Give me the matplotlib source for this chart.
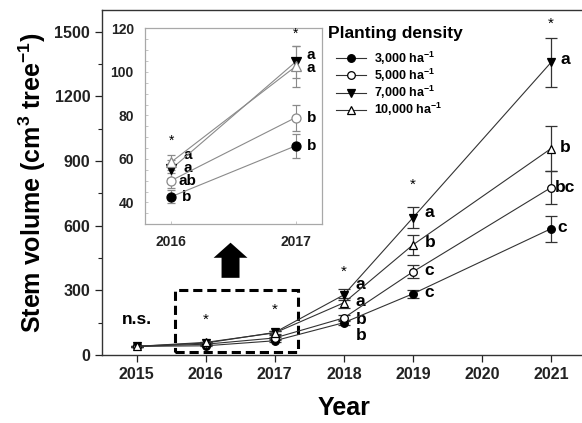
import matplotlib; matplotlib.use('Agg')
import matplotlib.pyplot as plt
from matplotlib.patches import Rectangle, FancyArrow
from matplotlib.lines import Line2D
from matplotlib.ticker import MultipleLocator

plt.rcParams['font.family'] = ['Liberation Sans', 'DejaVu Sans']
plt.rcParams['font.weight'] = 'bold'
plt.rcParams['mathtext.fontset'] = 'custom'
plt.rcParams['mathtext.rm'] = 'Liberation Sans:bold'
plt.rcParams['mathtext.bf'] = 'Liberation Sans:bold'
plt.rcParams['mathtext.default'] = 'bf'

# data
years = [2015, 2016, 2017, 2018, 2019, 2021]
densities = ['3,000', '5,000', '7,000', '10,000']
markers = ['o', 'o', 'v', '^']
filled = [True, False, True, False]
vol = {
    '3,000':  [40, 42.6, 66, 150, 284, 586],
    '5,000':  [40, 50, 79, 172, 386, 777],
    '7,000':  [40, 55.3, 104.6, 279, 637, 1358],
    '10,000': [40, 58.5, 102.5, 242, 511, 958],
}
err = {
    '3,000':  [3, 3, 5.5, 12, 18, 60],
    '5,000':  [3, 3.5, 6, 15, 30, 78],
    '7,000':  [3, 4, 7.5, 25, 50, 114],
    '10,000': [3, 3.5, 9.5, 22, 45, 105],
}
inset_years = [2016, 2017]

# significance letters: (x, y, text)
main_letters = [
    (2018.17, 325, 'a'), (2018.17, 248, 'a'), (2018.17, 163, 'b'), (2018.17, 90, 'b'),
    (2019.17, 660, 'a'), (2019.17, 521, 'b'), (2019.17, 391, 'c'), (2019.17, 290, 'c'),
    (2021.13, 1372, 'a'), (2021.13, 964, 'b'), (2021.05, 778, 'bc'), (2021.09, 592, 'c'),
]
main_stars = [(2016, 163), (2017, 212), (2018, 387), (2019, 790), (2021, 1535)]
inset_letters = [
    (2016.10, 61.6, 'a'), (2016.10, 55.8, 'a'), (2016.06, 50, 'ab'), (2016.09, 42.4, 'b'),
    (2017.09, 107.8, 'a'), (2017.09, 101.7, 'a'), (2017.09, 78.9, 'b'), (2017.09, 66, 'b'),
]
inset_stars = [(2016, 68.5), (2017, 117.7)]

fig = plt.figure(figsize=(5.82, 4.23), dpi=100)
ax = fig.add_axes([0.1753, 0.1608, 0.831, 0.8152])

handles = []
for d, m, f in zip(densities, markers, filled):
    fc = 'black' if f else 'white'
    ax.errorbar(years, vol[d], yerr=err[d], color='#333333', lw=0.8,
                marker=m, ms=5.5, mfc=fc, mec='black', mew=0.9,
                ecolor='#333333', elinewidth=0.9, capsize=4, capthick=0.9, zorder=3)
    handles.append(Line2D([], [], color='#333333', lw=0.8, marker=m, ms=5.5,
                          mfc=fc, mec='black', mew=0.9, label=d + ' ha$^{-1}$'))

ax.set_xlim(2014.5, 2021.5)
ax.set_ylim(0, 1600)
ax.set_xticks(range(2015, 2022))
ax.set_yticks(range(0, 1501, 300))
ax.yaxis.set_minor_locator(MultipleLocator(150))
ax.tick_params(axis='both', which='major', direction='out', length=5, width=0.9,
               labelsize=11.5, colors='#222')
ax.tick_params(axis='y', which='minor', direction='out', length=3, width=0.8, colors='#222')
ax.spines['right'].set_visible(False)
for s in ['left', 'bottom', 'top']:
    ax.spines[s].set_linewidth(1.0)
    ax.spines[s].set_color('#333')
ax.set_xlabel('Year', fontsize=18, fontweight='bold', labelpad=10)
ax.set_ylabel('Stem volume (cm$^{3}$ tree$^{-1}$)', fontsize=18, fontweight='bold', labelpad=5)

for x, y, t in main_letters:
    ax.text(x, y, t, fontsize=12.5, fontweight='bold', ha='left', va='center')
for x, y in main_stars:
    ax.text(x, y, '*', fontsize=11, fontweight='normal', ha='center', va='center')
ax.text(2015, 163, 'n.s.', fontsize=12.5, fontweight='bold', ha='center', va='center')

# zoom box and arrow
ax.add_patch(Rectangle((2015.56, 15), 1.77, 287, fill=False, ec='black', lw=2.2,
                       ls=(0, (3, 1.6)), zorder=2))
ax.add_patch(FancyArrow(2016.36, 358, 0, 163, width=0.26, head_width=0.49,
                        head_length=70, length_includes_head=True, color='black', lw=0))

# legend (title drawn as its own text)
ax.text(2017.775, 1490, 'Planting density', fontsize=12.5, fontweight='bold',
        ha='left', va='center')
ax.legend(handles=handles, loc='upper left', bbox_to_anchor=(0.4845, 0.886), frameon=False,
          prop={'weight': 'bold', 'size': 9}, handlelength=2.35, labelspacing=0.0,
          handletextpad=0.65, borderaxespad=0, borderpad=0)

# inset
ins = fig.add_axes([0.249, 0.470, 0.304, 0.463])
for d, m, f in zip(densities, markers, filled):
    ins.errorbar(inset_years, vol[d][1:3], yerr=err[d][1:3], color='#8a8a8a', lw=0.8,
                 marker=m, ms=6.5, mfc='black' if f else 'white',
                 mec='black' if f else '#8a8a8a', mew=0.9,
                 ecolor='#8a8a8a', elinewidth=0.8, capsize=3, capthick=0.8, zorder=3)
ins.set_xlim(2015.79, 2017.21)
ins.set_ylim(30, 120)
ins.set_xticks(inset_years)
ins.set_yticks(range(40, 121, 20))
ins.yaxis.set_minor_locator(MultipleLocator(5))
ins.tick_params(axis='both', which='both', direction='in', length=2, width=0.6,
                color='#bbbbbb', labelsize=10, labelcolor='#222')
ins.tick_params(axis='y', pad=8)
ins.tick_params(axis='x', pad=8)
for s in ins.spines.values():
    s.set_color('#a8a8a8')
    s.set_linewidth(0.9)
for x, y, t in inset_letters:
    ins.text(x, y, t, fontsize=11, fontweight='bold', ha='left', va='center')
for x, y in inset_stars:
    ins.text(x, y, '*', fontsize=10, fontweight='normal', ha='center', va='center')

plt.savefig('out.png', dpi=100)
